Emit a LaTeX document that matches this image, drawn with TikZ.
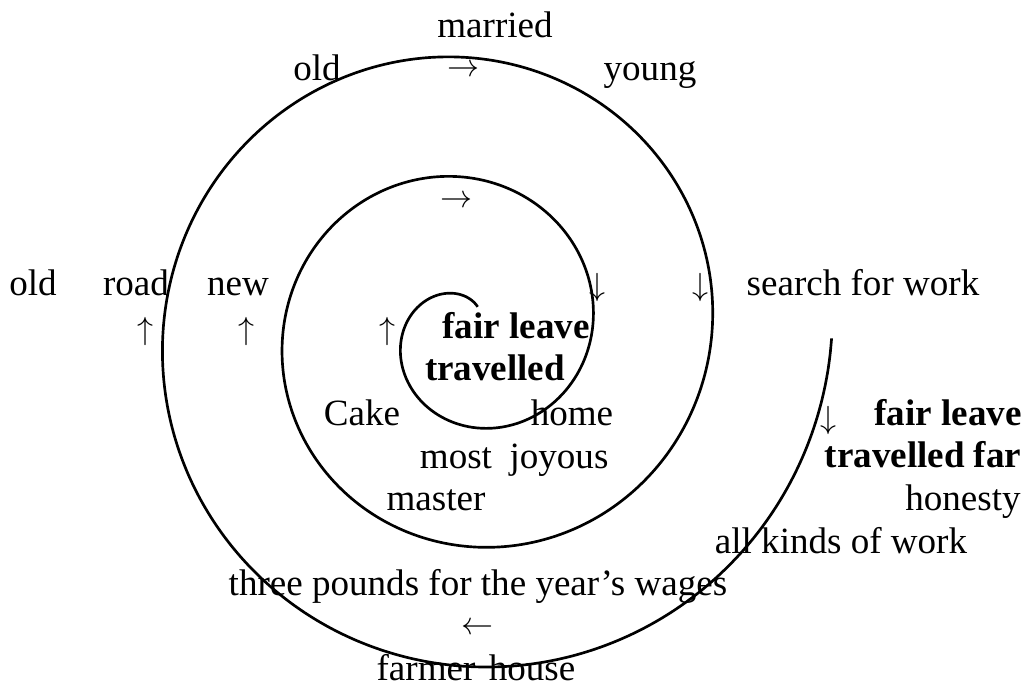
\documentclass[tikz,border=0pt]{standalone}
\usepackage{fontspec}
\setmainfont{Liberation Serif}
\tikzset{
	word/.style = {inner sep = 0pt, anchor = base, font = \fontsize{13.9}{16}\selectfont},
	keyword/.style = {word, font = \fontsize{13.9}{16}\selectfont\bfseries},
	pointer/.style = {inner sep = 0pt, anchor = center, font = \fontsize{12.5}{14}\selectfont}
}

\begin{document}
\begin{tikzpicture}[x = 0.375pt, y = -0.375pt]
	\def\cx{467.5};
	\def\cy{332};
	\def\gap{3};
	
	\useasboundingbox (0,0) rectangle (1027,686);
	
	% the spiral, from the inside out
	\draw [line width = 1pt] plot [domain = 68:1079, samples = 400, smooth]
		({\cx + (\x/\gap + 4.5)*cos(\x)}, {\cy - (\x/\gap + 4.5)*sin(\x)});
	
	\node [word] (married) at (495,37) {married};
	\node [word] (oldtop) at (317,80) {old};
	\node [pointer] (right1) at (463,71) {$\rightarrow$};
	\node [word] (young) at (650,80) {young};
	
	\node [pointer] (right2) at (456,202) {$\rightarrow$};
	
	\node [word] (old) at (33,295) {old};
	\node [word] (road) at (136,295) {road};
	\node [word] (new) at (238,295) {new};
	\node [pointer] (up1) at (145,331) {$\uparrow$};
	\node [pointer] (up2) at (247,331) {$\uparrow$};
	\node [pointer] (up3) at (387,331) {$\uparrow$};
	
	\node [pointer] (down1) at (597,287) {$\downarrow$};
	\node [pointer] (down2) at (700,287) {$\downarrow$};
	\node [word] (search) at (863,295) {search for work};
	
	\node [keyword] (fair) at (516,338) {fair leave};
	\node [keyword] (travelled) at (495,380) {travelled};
	
	\node [word] (cake) at (362,425) {Cake};
	\node [word] (home) at (572,425) {home};
	\node [word] (most) at (456,468) {most};
	\node [word] (joyous) at (559,468) {joyous};
	\node [word] (master) at (436,510) {master};
	
	\node [pointer] (down3) at (828,420) {$\downarrow$};
	\node [keyword] (fairfar) at (948,425) {fair leave};
	\node [keyword] (travelledfar) at (923,467) {travelled far};
	\node [word] (honesty) at (963,510) {honesty};
	\node [word] (kinds) at (841,553) {all kinds of work};
	
	\node [word] (wages) at (478,595) {three pounds for the year’s wages};
	\node [pointer] (left) at (477,629) {$\leftarrow$};
	\node [word] (farmer) at (426,680) {farmer};
	\node [word] (house) at (532,680) {house};
\end{tikzpicture}
\end{document}
